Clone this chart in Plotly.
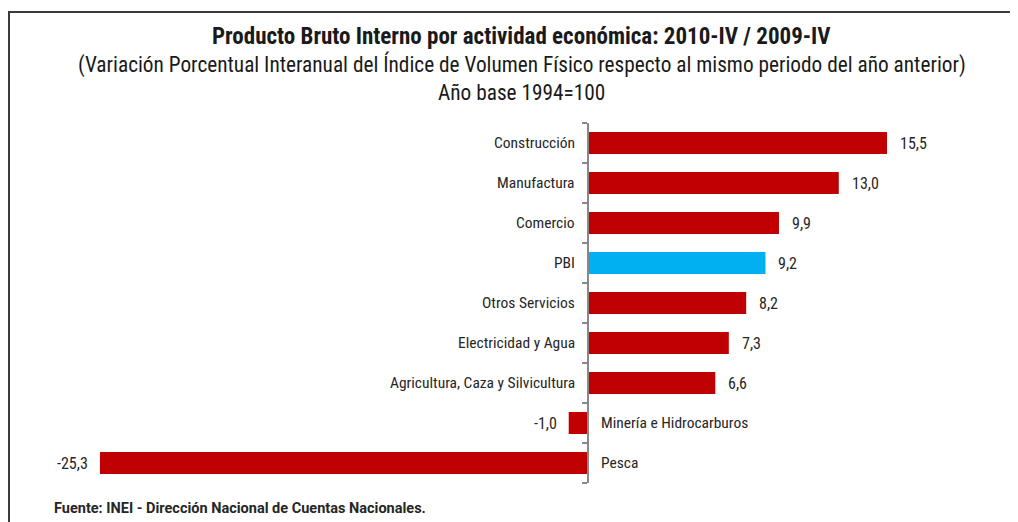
import plotly.graph_objects as go

categories = ["Construcción", "Manufactura", "Comercio", "PBI", "Otros Servicios",
              "Electricidad y Agua", "Agricultura, Caza y Silvicultura",
              "Minería e Hidrocarburos", "Pesca"]
values = [15.5, 13.0, 9.9, 9.2, 8.2, 7.3, 6.6, -1.0, -25.3]
colors = ["#C00000" if c != "PBI" else "#00B0F0" for c in categories]

title_main = "Producto Bruto Interno por actividad económica: 2010-IV / 2009-IV"
title_sub = "(Variación Porcentual Interanual del Índice de Volumen Físico respecto al mismo periodo del año anterior)"
title_base = "Año base 1994=100"
source = "Fuente: INEI - Dirección Nacional de Cuentas Nacionales."

W, H = 1018, 522
OFF = 8  # page body margin
FONT = "Liberation Sans Narrow, Arial Narrow, Roboto Condensed, Liberation Sans, sans-serif"
FONT_FOOT = "Roboto, Open Sans, sans-serif"


def fx(px):
    return (px - OFF) / W


def fy(py):
    return 1 - (py - OFF) / H


def fmt(v):
    return f"{v:.1f}".replace(".", ",")


fig = go.Figure(go.Bar(
    x=values, y=categories, orientation="h",
    marker=dict(color=colors, line=dict(width=0)),
    width=0.55, hoverinfo="skip",
))

ann = []
for c, v in zip(categories, values):
    ann.append(dict(x=v, y=c, xref="x", yref="y", text=fmt(v), showarrow=False,
                    xanchor="left" if v >= 0 else "right",
                    xshift=11 if v >= 0 else -10,
                    font=dict(size=16, color="#262626", family=FONT)))
    ann.append(dict(x=0, y=c, xref="x", yref="y", text=c, showarrow=False,
                    xanchor="right" if v >= 0 else "left",
                    xshift=-11 if v >= 0 else 11,
                    font=dict(size=15.5, color="#262626", family=FONT)))

ann += [
    dict(x=fx(521), y=fy(36), xref="paper", yref="paper", text=f"<b>{title_main}</b>",
         showarrow=False, xanchor="center", yanchor="middle",
         font=dict(size=23, color="#1a1a1a", family=FONT)),
    dict(x=fx(522), y=fy(64), xref="paper", yref="paper", text=title_sub,
         showarrow=False, xanchor="center", yanchor="middle",
         font=dict(size=21.3, color="#1a1a1a", family=FONT)),
    dict(x=fx(521), y=fy(92), xref="paper", yref="paper", text=title_base,
         showarrow=False, xanchor="center", yanchor="middle",
         font=dict(size=21.3, color="#1a1a1a", family=FONT)),
    dict(x=fx(52), y=fy(508), xref="paper", yref="paper", text=f"<b>{source}</b>",
         showarrow=False, xanchor="left", yanchor="middle",
         font=dict(size=14.5, color="#262626", family=FONT_FOOT)),
]

x0px, x1px, zeropx, scale = 86.5, 915.9, 588, 19.29
fig.update_layout(
    width=W, height=H,
    margin=dict(l=0, r=0, t=0, b=0),
    paper_bgcolor="white", plot_bgcolor="white",
    showlegend=False,
    annotations=ann,
    xaxis=dict(range=[(x0px - zeropx) / scale, (x1px - zeropx) / scale],
               domain=[fx(x0px), fx(x1px)], visible=False, fixedrange=True),
    yaxis=dict(domain=[fy(483), fy(123)],
               categoryorder="array", categoryarray=categories[::-1],
               anchor="free", position=fx(zeropx),
               showticklabels=False, showgrid=False, zeroline=False,
               showline=True, linecolor="#888888", linewidth=2,
               ticks="outside", ticklen=5, tickcolor="#888888", tickwidth=2,
               tickson="boundaries", fixedrange=True),
    shapes=[
        dict(type="line", xref="paper", yref="paper", x0=fx(8), x1=1.0,
             y0=fy(12), y1=fy(12), line=dict(color="#3a3a3a", width=2)),
        dict(type="line", xref="paper", yref="paper", x0=fx(8) + 1 / W, x1=fx(8) + 1 / W,
             y0=0, y1=fy(12), line=dict(color="#3a3a3a", width=2)),
    ],
)

fig.write_html("out.html")
